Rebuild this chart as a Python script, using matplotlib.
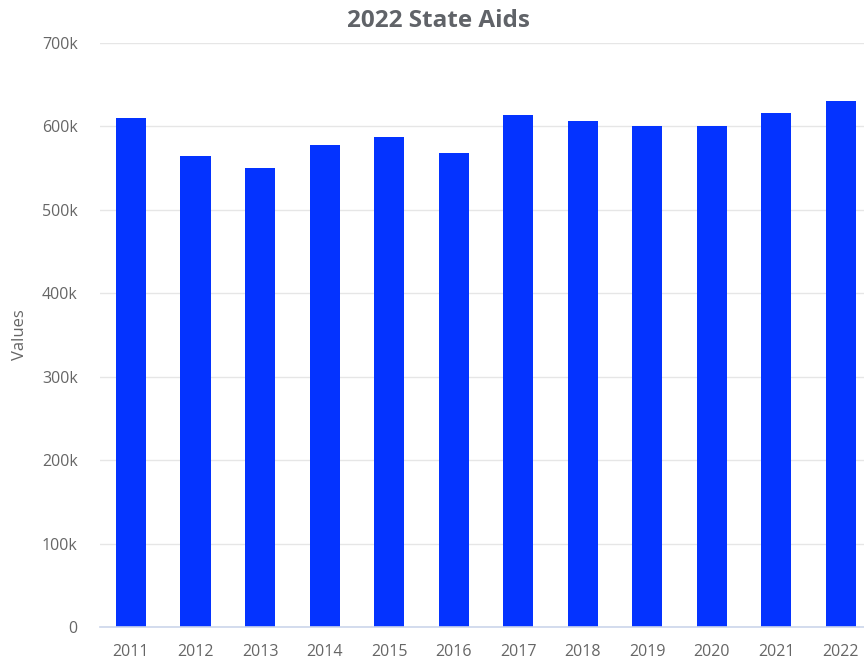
import matplotlib
matplotlib.use("Agg")
import matplotlib.pyplot as plt
from matplotlib.ticker import FuncFormatter

years = ["2011", "2012", "2013", "2014", "2015", "2016",
         "2017", "2018", "2019", "2020", "2021", "2022"]
values = [610000, 564000, 550000, 578000, 587000, 568000,
          614000, 606000, 600000, 600000, 616000, 630000]
y_ticks = [0, 100000, 200000, 300000, 400000, 500000, 600000, 700000]

plt.rcParams["font.family"] = ["Open Sans", "DejaVu Sans"]

fig = plt.figure(figsize=(8.64, 6.58), dpi=100)
ax = fig.add_axes([100 / 864, 1 - 627 / 658, 1 - 100 / 864, (627 - 43) / 658])

x = list(range(len(years)))
ax.bar(x, values, width=0.465, color="#0433ff", zorder=3)

ax.set_ylim(0, 700000)
ax.set_xlim(-0.48, len(years) - 1 + 0.36)
ax.set_yticks(y_ticks)
ax.yaxis.set_major_formatter(FuncFormatter(lambda v, _: "0" if v == 0 else f"{int(v/1000)}k"))
ax.set_xticks(x)
ax.set_xticklabels(years)

ax.grid(axis="y", color="#e6e6e6", linewidth=1, zorder=0)
for side in ("top", "right", "left"):
    ax.spines[side].set_visible(False)
ax.spines["bottom"].set_color("#ccd6eb")
ax.spines["bottom"].set_linewidth(1.2)
ax.spines["bottom"].set_zorder(4)

ax.tick_params(axis="y", length=0, pad=16, labelsize=11.5, labelcolor="#666666")
ax.tick_params(axis="x", length=0, pad=12, labelsize=11.5, labelcolor="#666666")

ax.set_ylabel("Values", fontsize=12, color="#666666", labelpad=10)

fig.text(438 / 864, 1 - 21 / 658, "2022 State Aids", ha="center", va="center",
         fontsize=17.5, fontweight="bold", color="#606368")

fig.savefig("out.png", dpi=100)
